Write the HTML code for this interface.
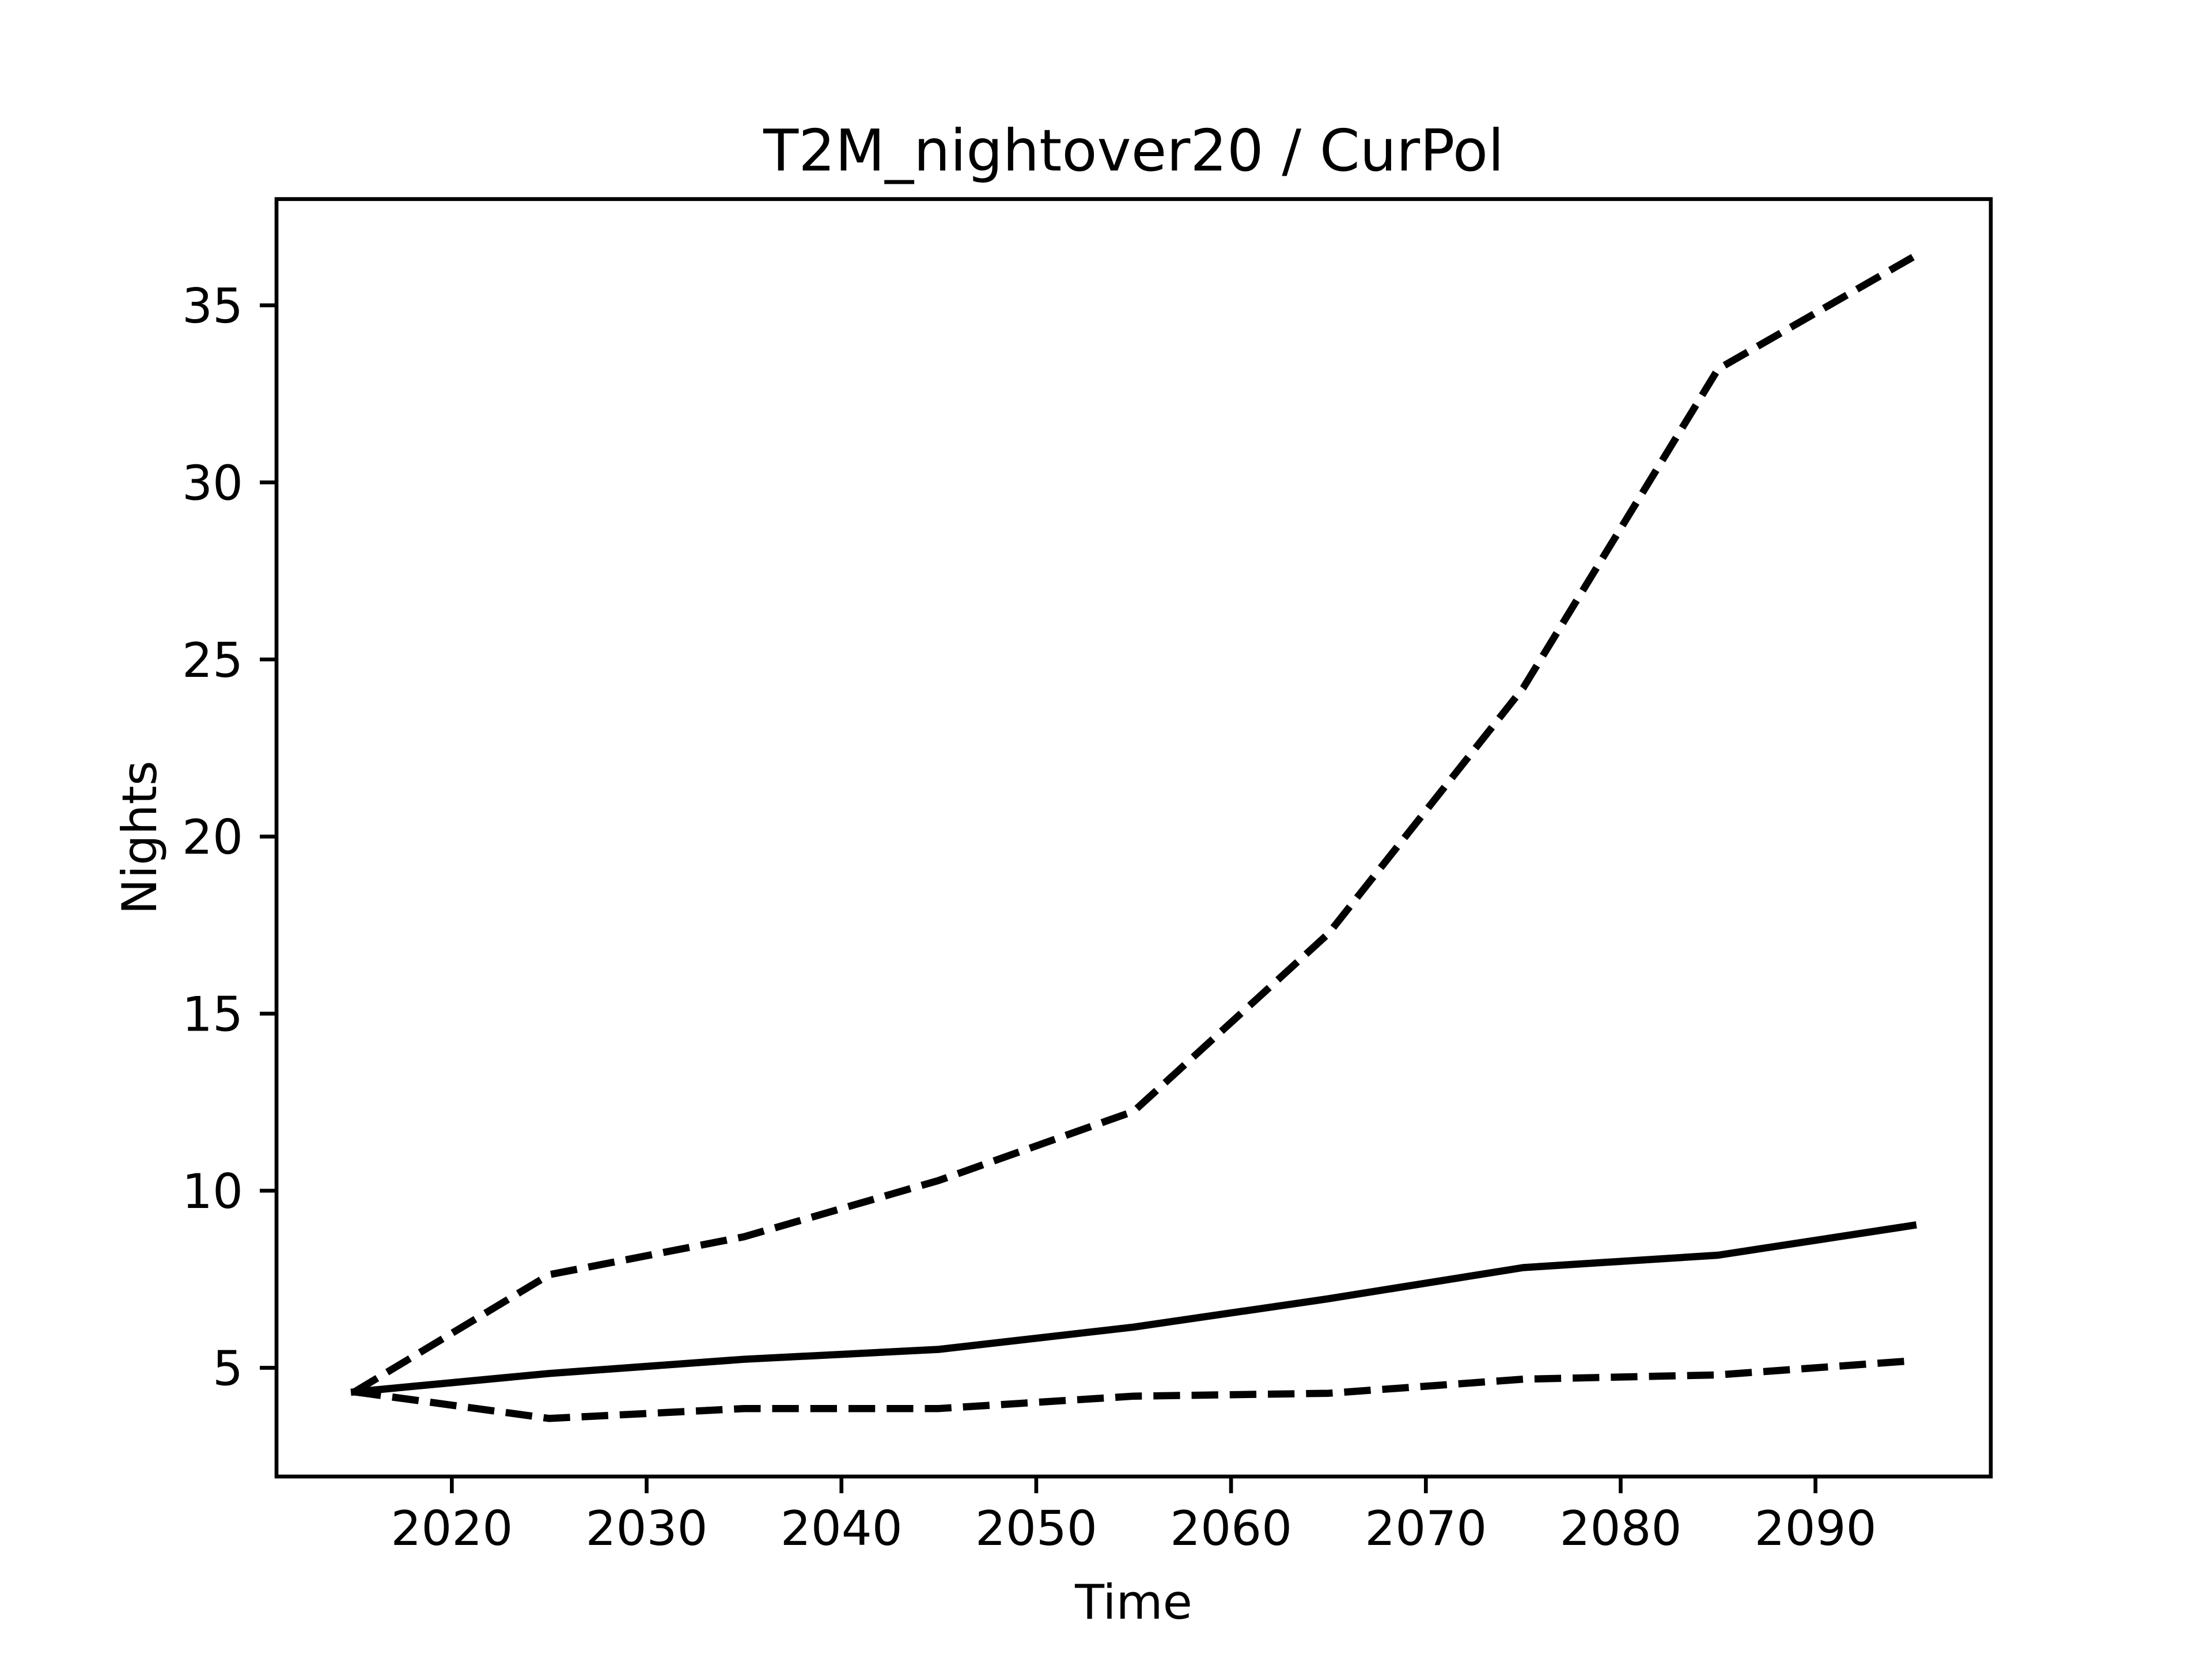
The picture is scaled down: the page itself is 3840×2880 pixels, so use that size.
<!DOCTYPE html>
<html><head><meta charset="utf-8"><style>
html,body{margin:0;padding:0;background:#fff;}
svg{display:block;}
text{font-family:"DejaVu Sans","Liberation Sans",sans-serif;fill:#000;}
</style></head><body>
<svg id="chart" width="3840" height="2880" viewBox="0 0 3840 2880" xmlns="http://www.w3.org/2000/svg">
<rect width="3840" height="2880" fill="#fff"/>
<text x="1968" y="296" font-size="100" text-anchor="middle">T2M_nightover20 / CurPol</text>
<text x="1968" y="2810" font-size="83.3" text-anchor="middle">Time</text>
<text transform="translate(271,1454) rotate(-90)" font-size="83.3" text-anchor="middle">Nights</text>
<g id="plot"></g>
</svg>
<script>
const years = [2015, 2025, 2035, 2045, 2055, 2065, 2075, 2085, 2095];
const upperValues = [4.32, 7.63, 8.70, 10.29, 12.24, 17.26, 24.2, 33.2, 36.36];
const medianValues = [4.32, 4.84, 5.24, 5.52, 6.15, 6.95, 7.83, 8.18, 9.02];
const lowerValues = [4.32, 3.57, 3.85, 3.85, 4.2, 4.28, 4.68, 4.8, 5.2];
const xTicks = [2020, 2030, 2040, 2050, 2060, 2070, 2080, 2090];
const yTicks = [5, 10, 15, 20, 25, 30, 35];

const L = 480, R = 3456, T = 345.6, B = 2563.2;
const NS = 'http://www.w3.org/2000/svg';
const plot = document.getElementById('plot');
const all = upperValues.concat(medianValues, lowerValues);
const xmin0 = Math.min(...years), xmax0 = Math.max(...years);
const ymin0 = Math.min(...all), ymax0 = Math.max(...all);
const xm = (xmax0 - xmin0) * 0.05, ym = (ymax0 - ymin0) * 0.05;
const xlo = xmin0 - xm, xhi = xmax0 + xm, ylo = ymin0 - ym, yhi = ymax0 + ym;
function sx(v) { return L + (v - xlo) / (xhi - xlo) * (R - L); }
function sy(v) { return B - (v - ylo) / (yhi - ylo) * (B - T); }
function mk(tag, attrs) { const e = document.createElementNS(NS, tag); for (const k in attrs) e.setAttribute(k, attrs[k]); plot.appendChild(e); return e; }

function series(vals, name, dashed) {
  const pts = years.map((y, i) => sx(y).toFixed(1) + ',' + sy(vals[i]).toFixed(1)).join(' ');
  const p = mk('polyline', {points: pts, fill: 'none', stroke: '#000', 'stroke-width': 12.5, 'stroke-linejoin': 'round', 'stroke-linecap': dashed ? 'butt' : 'square'});
  if (dashed) p.setAttribute('stroke-dasharray', '46.25 20');
  
  
}
series(upperValues, 'upper-bound-line', true);
series(medianValues, 'median-line', false);
series(lowerValues, 'lower-bound-line', true);

xTicks.forEach(t => {
  const x = sx(t);
  const tk = mk('line', {x1: x, x2: x, y1: B, y2: B + 29, stroke: '#000', 'stroke-width': 6.67});
  
  
  const tx = mk('text', {x: x, y: B + 29 + 29 + 61, 'font-size': 83.3, 'text-anchor': 'middle'});
  tx.textContent = t;
  
  
});
yTicks.forEach(t => {
  const y = sy(t);
  const tk = mk('line', {x1: L - 29, x2: L, y1: y, y2: y, stroke: '#000', 'stroke-width': 6.67});
  
  
  const tx = mk('text', {x: L - 29 - 29, y: y + 30, 'font-size': 83.3, 'text-anchor': 'end'});
  tx.textContent = t;
  
  
});
const frame = mk('rect', {x: L, y: T, width: R - L, height: B - T, fill: 'none', stroke: '#000', 'stroke-width': 6.67, 'stroke-linejoin': 'miter'});


</script>
</body></html>
